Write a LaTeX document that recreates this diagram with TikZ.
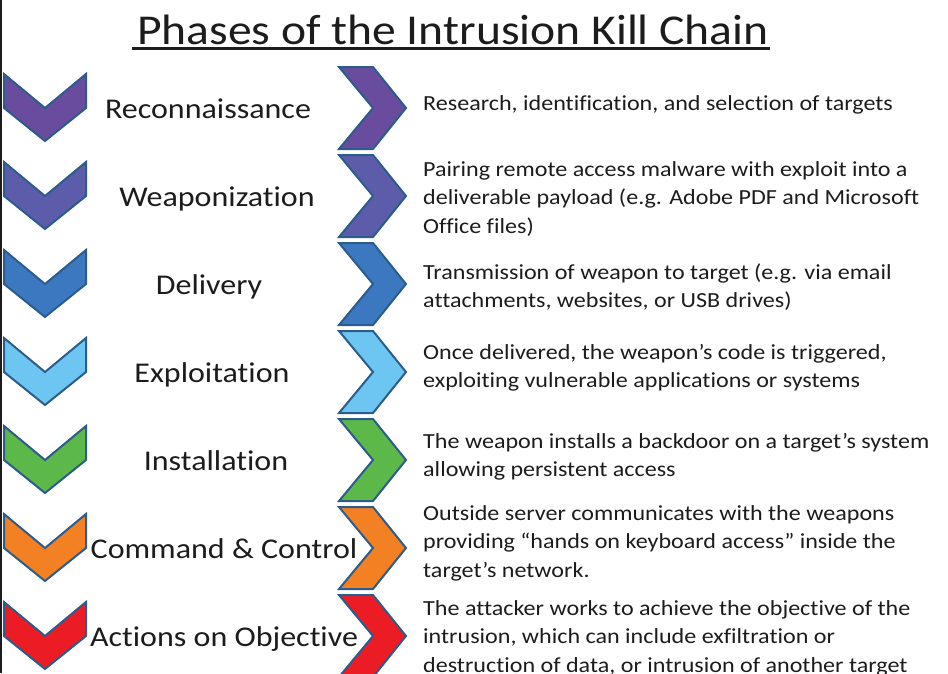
\documentclass[tikz,border=0pt]{standalone}
\usepackage{fontspec}
\setmainfont{Carlito}[FakeStretch=1.12, Ligatures=NoCommon]
\usetikzlibrary{positioning}
\definecolor{chevline}{RGB}{44,92,140}
\definecolor{inktext}{RGB}{28,28,28}
\definecolor{reconfill}{RGB}{106,76,158}
\definecolor{weapfill}{RGB}{92,92,170}
\definecolor{delivfill}{RGB}{59,120,191}
\definecolor{exploitfill}{RGB}{108,198,241}
\definecolor{instfill}{RGB}{92,184,72}
\definecolor{ccfill}{RGB}{243,128,34}
\definecolor{actfill}{RGB}{236,28,36}

\tikzset{
    chevron/.style={draw=chevline, line width=2pt, line join=miter},
    downchev/.pic={\path[chevron, pic actions] (-41,-34) -- (0,0) -- (41,-34) -- (41,0) -- (0,33) -- (-41,0) -- cycle;},
    rightchev/.pic={\path[chevron, pic actions] (-34,-41) -- (0,-41) -- (33,0) -- (0,41) -- (-34,41) -- (0,0) -- cycle;}
}

\begin{document}
\begin{tikzpicture}[
    x=1pt, y=-1pt,
    phase/.style={anchor=base, inner sep=0pt, text=inktext, font=\fontsize{28.6}{32}\selectfont},
    desc/.style={anchor=west, inner sep=0pt, align=left, text=inktext, font=\fontsize{21.5}{28.5}\selectfont},
    heading/.style={anchor=base, inner sep=0pt, text=inktext, font=\fontsize{42.5}{48}\selectfont}
]
\useasboundingbox (0,0) rectangle (948,673);
\draw[line width=1.5pt, color=inktext] (0.75,0) -- (0.75,673);

% Title
\node[heading] (title) at (453,44) {Phases of the Intrusion Kill Chain};
\draw[line width=3pt, color=inktext] ([xshift=-5pt, yshift=-4pt]title.base west) -- ([xshift=1pt, yshift=-4pt]title.base east);

% Reconnaissance
\pic[fill=reconfill] (recon-down) at (45,108) {downchev};
\node[phase] (recon-label) at (208,118) {Reconnaissance};
\pic[fill=reconfill] (recon-right) at (373,108) {rightchev};
\node[desc] (recon-desc) at (423,105) {Research, identification, and selection of targets};

% Weaponization
\pic[fill=weapfill] (weap-down) at (45,196) {downchev};
\node[phase] (weap-label) at (217,206) {Weaponization};
\pic[fill=weapfill] (weap-right) at (373,196) {rightchev};
\node[desc] (weap-desc) at (423,199) {Pairing remote access malware with exploit into a\\deliverable payload (e.g. Adobe PDF and Microsoft\\Office files)};

% Delivery
\pic[fill=delivfill] (deliv-down) at (45,284) {downchev};
\node[phase] (deliv-label) at (209,294) {Delivery};
\pic[fill=delivfill] (deliv-right) at (373,284) {rightchev};
\node[desc] (deliv-desc) at (423,287) {Transmission of weapon to target (e.g. via email\\attachments, websites, or USB drives)};

% Exploitation
\pic[fill=exploitfill] (exploit-down) at (45,372) {downchev};
\node[phase] (exploit-label) at (212,382) {Exploitation};
\pic[fill=exploitfill] (exploit-right) at (373,372) {rightchev};
\node[desc] (exploit-desc) at (423,368) {Once delivered, the weapon’s code is triggered,\\exploiting vulnerable applications or systems};

% Installation
\pic[fill=instfill] (inst-down) at (45,460) {downchev};
\node[phase] (inst-label) at (216,470) {Installation};
\pic[fill=instfill] (inst-right) at (373,460) {rightchev};
\node[desc] (inst-desc) at (423,457) {The weapon installs a backdoor on a target’s system\\allowing persistent access};

% Command & Control
\pic[fill=ccfill] (cc-down) at (45,548) {downchev};
\node[phase] (cc-label) at (224,558) {Command \& Control};
\pic[fill=ccfill] (cc-right) at (373,548) {rightchev};
\node[desc] (cc-desc) at (423,543) {Outside server communicates with the weapons\\providing “hands on keyboard access” inside the\\target’s network.};

% Actions on Objective
\pic[fill=actfill] (act-down) at (45,636) {downchev};
\node[phase] (act-label) at (224,646) {Actions on Objective};
\pic[fill=actfill] (act-right) at (373,636) {rightchev};
\node[desc] (act-desc) at (423,638) {The attacker works to achieve the objective of the\\intrusion, which can include exfiltration or\\destruction of data, or intrusion of another target};

\end{tikzpicture}
\end{document}
